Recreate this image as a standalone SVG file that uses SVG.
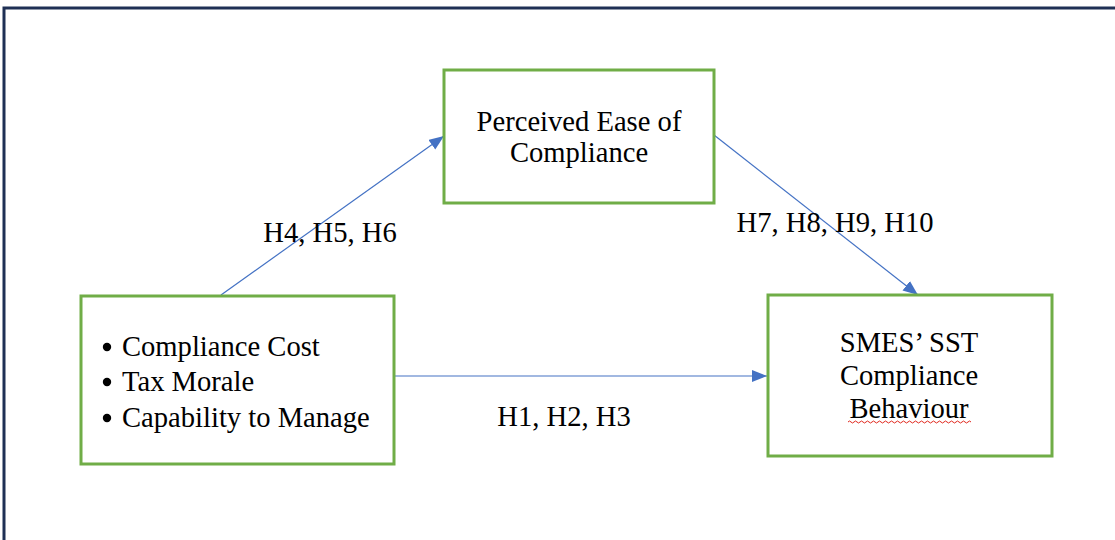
<svg xmlns="http://www.w3.org/2000/svg" width="1115" height="540" viewBox="0 0 1115 540">
  <style>
    .box { fill: #ffffff; stroke: #70AD47; stroke-width: 3; }
    .txt { font-family: "Liberation Serif", "Times New Roman", serif; font-size: 28.6px; fill: #000000; }
    .conn { stroke: #4472C4; stroke-width: 1.2; fill: none; }
  </style>
  <defs>
    <marker id="arrow" markerUnits="userSpaceOnUse" markerWidth="16" markerHeight="14" refX="15" refY="6" orient="auto">
      <path d="M0,0 L15,6 L0,12 Z" fill="#4472C4"/>
    </marker>
  </defs>
  <rect x="0" y="0" width="1115" height="540" fill="#ffffff"/>
  <path d="M4,540 L4,8 L1115,8" fill="none" stroke="#1F3055" stroke-width="3"/>

  <g id="connectors">
    <line class="conn" x1="221" y1="295" x2="444" y2="136" marker-end="url(#arrow)"/>
    <line class="conn" x1="714" y1="135" x2="918" y2="295" marker-end="url(#arrow)"/>
    <line class="conn" x1="394" y1="376" x2="767" y2="376" marker-end="url(#arrow)"/>
    <text class="txt" x="330" y="242" text-anchor="middle">H4, H5, H6</text>
    <text class="txt" x="835" y="232" text-anchor="middle">H7, H8, H9, H10</text>
    <text class="txt" x="564" y="426" text-anchor="middle">H1, H2, H3</text>
  </g>

  <g id="node-ease">
    <rect class="box" x="444" y="70" width="270" height="133"/>
    <text class="txt" x="579" y="131" text-anchor="middle">Perceived Ease of</text>
    <text class="txt" x="579" y="162" text-anchor="middle">Compliance</text>
  </g>

  <g id="node-factors">
    <rect class="box" x="81" y="296" width="313" height="168"/>
    <circle cx="107" cy="347" r="4.2" fill="#000"/>
    <circle cx="107" cy="382" r="4.2" fill="#000"/>
    <circle cx="107" cy="418" r="4.2" fill="#000"/>
    <text class="txt" x="122" y="356">Compliance Cost</text>
    <text class="txt" x="122" y="391">Tax Morale</text>
    <text class="txt" x="122" y="427">Capability to Manage</text>
  </g>

  <g id="node-behaviour">
    <rect class="box" x="768" y="295" width="284" height="161"/>
    <text class="txt" x="909" y="352" text-anchor="middle">SMES’ SST</text>
    <text class="txt" x="909" y="385" text-anchor="middle">Compliance</text>
    <text class="txt" x="909" y="418" text-anchor="middle">Behaviour</text>
    <path d="M848,422 q1.5,-2 3,0 t3,0 t3,0 t3,0 t3,0 t3,0 t3,0 t3,0 t3,0 t3,0 t3,0 t3,0 t3,0 t3,0 t3,0 t3,0 t3,0 t3,0 t3,0 t3,0 t3,0 t3,0 t3,0 t3,0 t3,0 t3,0 t3,0 t3,0 t3,0 t3,0 t3,0 t3,0 t3,0 t3,0 t3,0 t3,0 t3,0 t3,0 t3,0 t3,0 t3,0" fill="none" stroke="#E0281E" stroke-width="1"/>
  </g>
</svg>
